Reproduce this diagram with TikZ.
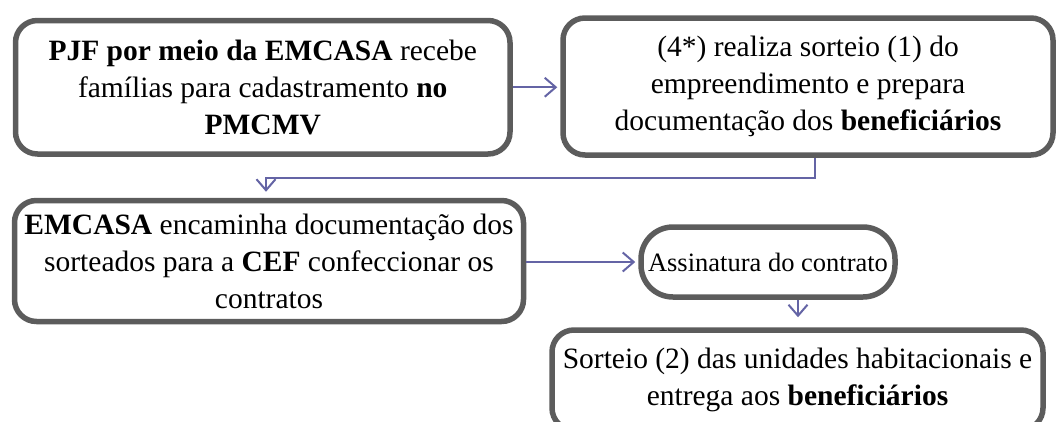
\documentclass[tikz,border=0pt]{standalone}
\usepackage{fontspec}
\setmainfont{Liberation Serif}
\usetikzlibrary{arrows.meta,calc}
\definecolor{boxgray}{RGB}{92,92,92}
\definecolor{arrowblue}{RGB}{100,100,165}
\tikzset{
  flowbox/.style={draw=boxgray, line width=5.5pt, rounded corners=22pt, fill=white,
    align=center, inner sep=0pt, text=black,
    font=\fontsize{29.5}{37}\selectfont},
  flowarrow/.style={draw=arrowblue, line width=2pt,
    -{Straight Barb[length=11pt,width=19pt,line width=2pt]}},
}
\begin{document}
\begin{tikzpicture}[x=1pt,y=-1pt]
\useasboundingbox (0,0) rectangle (1058,421);
\clip (0,0) rectangle (1058,421);
\node[flowbox, minimum width=494.5pt, minimum height=133.5pt] (b1) at (262.75,87.25)
  {\textbf{PJF por meio da EMCASA} recebe\\famílias para cadastramento \textbf{no}\\\textbf{PMCMV}};
\node[flowbox, minimum width=490pt, minimum height=137pt] (b2) at (808,86.5)
  {(4*) realiza sorteio (1) do\\empreendimento e prepara\\documentação dos \textbf{beneficiários}};
\node[flowbox, minimum width=509pt, minimum height=121pt] (b3) at (269,261)
  {\textbf{EMCASA} encaminha documentação dos\\sorteados para a \textbf{CEF} confeccionar os\\contratos};
\node[flowbox, rounded corners=32pt, minimum width=254pt, minimum height=70pt,
  font=\fontsize{26.5}{32}\selectfont] (b4) at (768,262)
  {Assinatura do contrato};
\node[flowbox, minimum width=491pt, minimum height=100pt] (b5) at (797.5,380)
  {Sorteio (2) das unidades habitacionais e\\entrega aos \textbf{beneficiários}};
\coordinate (c1) at (815,178);
\coordinate (c2) at (266,178);
\draw[flowarrow, shorten >=3pt] (b1.east) -- (b1.east -| b2.west);
\draw[flowarrow, shorten >=6pt] (b2.south -| c1) -- (c1) -- (c2) -- (c2 |- b3.north);
\draw[flowarrow, shorten >=3pt] (b3.east |- b4.west) -- (b4.west);
\draw[flowarrow, shorten >=10pt] (b4.south -| 798,0) -- (b5.north -| 798,0);
\end{tikzpicture}
\end{document}
